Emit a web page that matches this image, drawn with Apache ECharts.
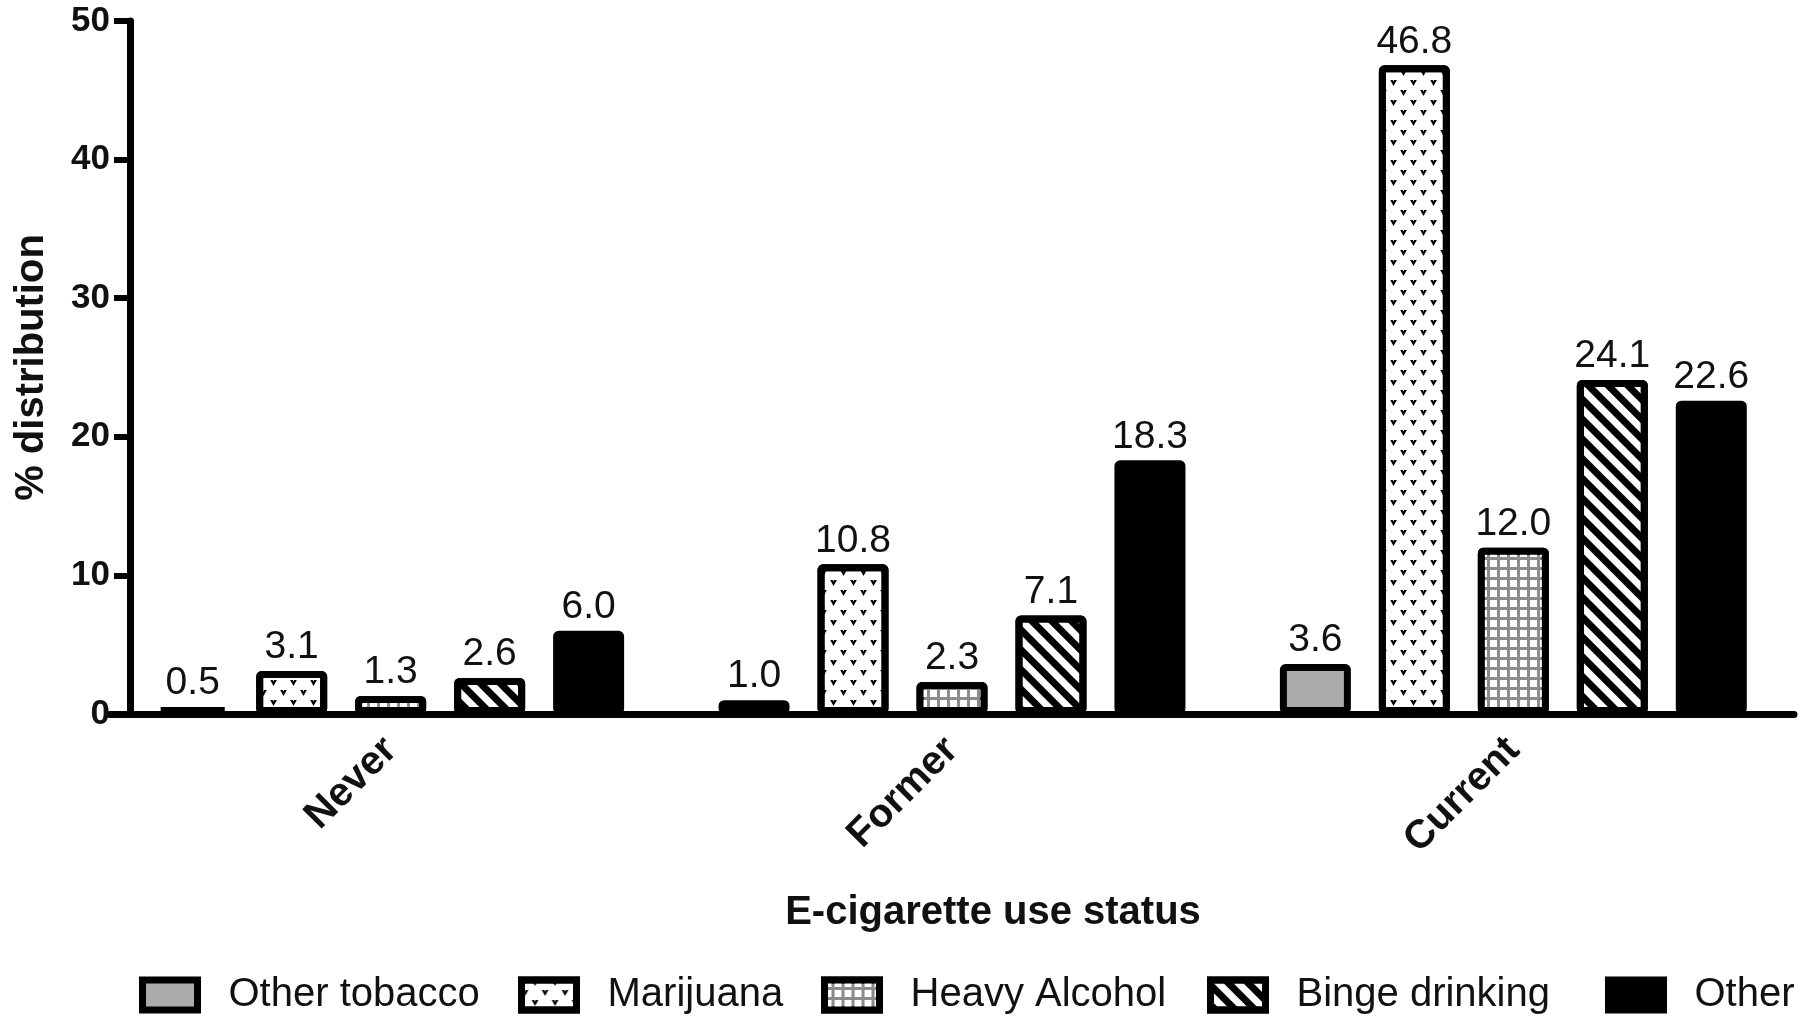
<!DOCTYPE html>
<html>
<head>
<meta charset="utf-8">
<script src="https://cdn.jsdelivr.net/npm/echarts@6/dist/echarts.min.js"></script>
<style>html,body{margin:0;padding:0;background:#fff;}#c{width:1800px;height:1017px;}</style>
</head>
<body>
<div id="c"></div>
<script>
const categories = ['Never', 'Former', 'Current'];
const seriesNames = ['Other tobacco', 'Marijuana', 'Heavy Alcohol', 'Binge drinking', 'Other'];
const otherTobacco = [0.5, 1.0, 3.6];
const marijuana = [3.1, 10.8, 46.8];
const heavyAlcohol = [1.3, 2.3, 12.0];
const bingeDrinking = [2.6, 7.1, 24.1];
const other = [6.0, 18.3, 22.6];
const yTicks = [0, 10, 20, 30, 40, 50];

const FONT = '"Liberation Sans", Arial, Helvetica, sans-serif';
const values = [otherTobacco, marijuana, heavyAlcohol, bingeDrinking, other];

const styles = [
  { color: '#ababab' },
  { color: '#ffffff', decal: { symbol: 'path://M0,0 L4,0 L5,2.5 L6,0 L10,0 L5,9 Z', symbolSize: 1, dashArrayX: [[7, 13], [0, 10, 7, 3]], dashArrayY: [6, 4], color: '#000', rotation: 0 } },
  { color: '#8c8c8c', decal: { symbol: 'rect', symbolSize: 1, dashArrayX: [7, 3], dashArrayY: [7, 3], color: '#ffffff', rotation: 0 } },
  { color: '#ffffff', decal: { symbol: 'rect', symbolSize: 1, dashArrayX: [1, 0], dashArrayY: [7, 7], color: '#000', rotation: Math.PI / 4 } },
  { color: '#000000' }
];

const series = seriesNames.map((name, i) => ({
  name: name,
  type: 'bar',
  data: values[i],
  barWidth: 71,
  barGap: '39.4%',
  itemStyle: Object.assign({ borderColor: '#000', borderWidth: 7, borderRadius: 2 }, styles[i]),
  label: {
    show: true,
    position: 'top',
    distance: 4,
    color: '#111',
    fontFamily: FONT,
    fontSize: 39,
    formatter: p => p.value.toFixed(1)
  }
}));

const legendLefts = [139, 518, 821, 1207, 1605];
const legends = seriesNames.map((name, i) => ({
  data: [{ name: name, icon: 'rect' }],
  left: legendLefts[i],
  top: 975,
  padding: 0,
  itemWidth: 55,
  itemHeight: 30,
  selectedMode: false,
  itemStyle: { borderColor: '#000', borderWidth: 7 },
  textStyle: { fontFamily: FONT, fontSize: 40, color: '#111', padding: [0, 0, 0, 26] }
}));

const chart = echarts.init(document.getElementById('c'), null, { renderer: 'canvas' });
chart.setOption({
  animation: false,
  backgroundColor: '#fff',
  title: {
    text: 'E-cigarette use status',
    left: 988,
    top: 888,
    textAlign: 'center',
    textStyle: { fontFamily: FONT, fontSize: 40, fontWeight: 'bold', color: '#111' }
  },
  legend: legends,
  grid: { left: 110, top: 21, width: 1684, height: 693, containLabel: false },
  xAxis: {
    type: 'category',
    data: categories,
    axisLine: { lineStyle: { color: '#000', width: 7 } },
    axisTick: { alignWithLabel: true, length: 22, lineStyle: { color: '#000', width: 6 } },
    axisLabel: { rotate: 45, margin: 30, fontFamily: FONT, fontSize: 40, fontWeight: 'bold', color: '#111' }
  },
  yAxis: {
    type: 'value',
    min: yTicks[0],
    max: yTicks[yTicks.length - 1],
    interval: 10,
    offset: -20,
    name: '% distribution',
    nameLocation: 'middle',
    nameRotate: 90,
    nameGap: 78,
    nameTextStyle: { fontFamily: FONT, fontSize: 40, fontWeight: 'bold', color: '#111' },
    axisLine: { show: true, lineStyle: { color: '#000', width: 7 } },
    axisTick: { show: true, length: 16, lineStyle: { color: '#000', width: 6 } },
    axisLabel: { margin: 20, fontFamily: FONT, fontSize: 35, fontWeight: 'bold', color: '#111' },
    splitLine: { show: false }
  },
  series: series
});
</script>
</body>
</html>
